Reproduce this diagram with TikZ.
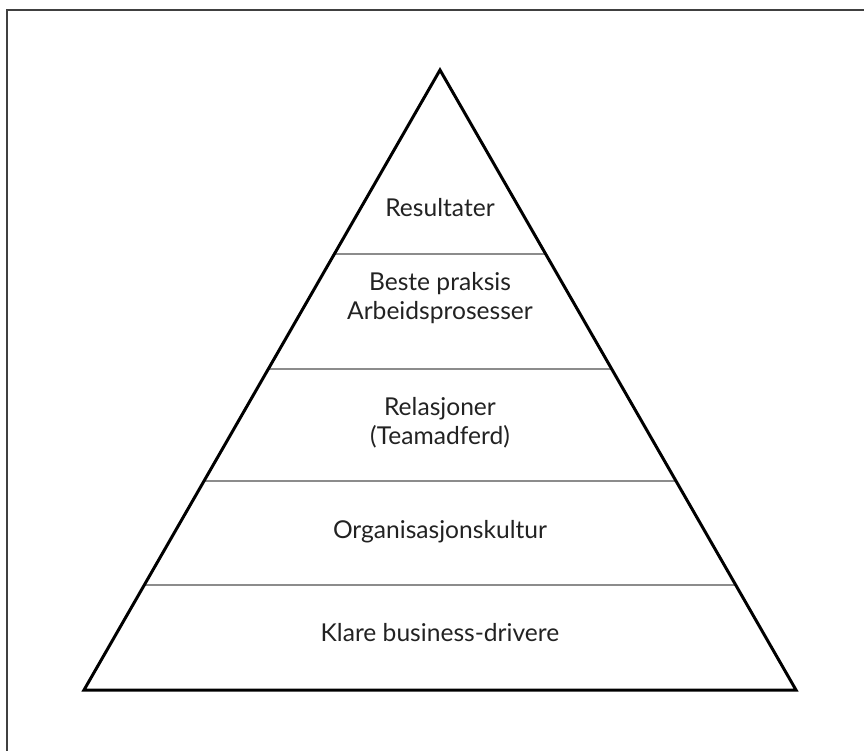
\documentclass[tikz,border=0pt]{standalone}
\usepackage{fontspec}
\setmainfont{Lato}
\usepackage{tikz}
\usetikzlibrary{calc}
\definecolor{textgray}{HTML}{222222}
\tikzstyle{edge} = [draw, line width=1.7pt, line join=miter]
\tikzstyle{layer} = [draw=black!45, line width=1.4pt]
\tikzstyle{label} = [font=\fontsize{14}{16.5}\selectfont, text=textgray, align=center]

\begin{document}
\begin{tikzpicture}[x=0.02cm, y=-0.02cm]

	\useasboundingbox (0, 0) rectangle (864, 750);
	\draw [black!75, line width=1.3pt] (7, 10) rectangle (900, 800);

	% corners
	\coordinate (T) at (440, 70);
	\coordinate (L) at (84, 690);
	\coordinate (R) at (796, 690);

	% layer ends
	\coordinate (L1) at ($(T)!0.297!(L)$);
	\coordinate (R1) at ($(T)!0.297!(R)$);
	\coordinate (L2) at ($(T)!0.482!(L)$);
	\coordinate (R2) at ($(T)!0.482!(R)$);
	\coordinate (L3) at ($(T)!0.663!(L)$);
	\coordinate (R3) at ($(T)!0.663!(R)$);
	\coordinate (L4) at ($(T)!0.831!(L)$);
	\coordinate (R4) at ($(T)!0.831!(R)$);

	% lines
	\draw [layer] (L1) -- (R1);
	\draw [layer] (L2) -- (R2);
	\draw [layer] (L3) -- (R3);
	\draw [layer] (L4) -- (R4);
	\draw [edge] (T) -- (L) -- (R) -- cycle;

	% texts
	\node[label] (A) at (440, 208) {Resultater};
	\node[label] (B) at (440, 298) {Beste praksis\\Arbeidsprosesser};
	\node[label] (C) at (440, 423) {Relasjoner\\(Teamadferd)};
	\node[label] (D) at (440, 532) {Organisasjonskultur};
	\node[label] (E) at (440, 633) {Klare business-drivere};

\end{tikzpicture}
\end{document}
